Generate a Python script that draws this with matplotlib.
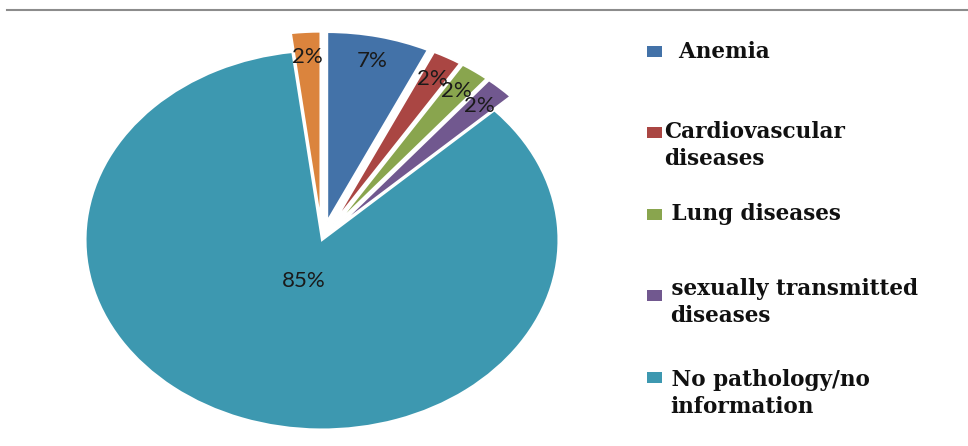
import numpy as np
import matplotlib.pyplot as plt
from matplotlib.patches import Rectangle
from matplotlib.lines import Line2D

# share of each condition, clockwise from 12 o'clock
labels = ["  Anemia", "Cardiovascular\ndiseases", " Lung diseases",
          " sexually transmitted\ndiseases", " No pathology/no\ninformation"]
values = [7, 2, 2, 2, 85, 2]
colors = ["#4372A8", "#AA4643", "#89A54E", "#71588F", "#3D98B0", "#DB843D"]
explode = [0.1, 0.1, 0.1, 0.1, 0.0, 0.1]

W, H = 968, 446
fig = plt.figure(figsize=(W / 100, H / 100), dpi=100)

# pie centre and radii in pixels; the pie is drawn as an ellipse
cx, cy, rx, ry = 322, 240, 236.5, 189.5
m = 1.3
ax = fig.add_axes([(cx - rx * m) / W, (H - cy - ry * m) / H,
                   2 * rx * m / W, 2 * ry * m / H])

wedges, texts, autotexts = ax.pie(
    values, colors=colors, explode=explode, startangle=90, counterclock=False,
    autopct=lambda p: f"{p:.0f}%", pctdistance=0.87,
    wedgeprops=dict(edgecolor="white", linewidth=1.5),
    textprops=dict(fontsize=16, family="Lato", color="#1a1a1a"))
ax.set_aspect("auto")
ax.set_xlim(-m, m)
ax.set_ylim(-m, m)

# big slice: label sits close to the centre
w = wedges[4]
mid = np.deg2rad((w.theta1 + w.theta2) / 2)
autotexts[4].set_position((w.center[0] + 0.23 * w.r * np.cos(mid),
                           w.center[1] + 0.23 * w.r * np.sin(mid)))

# legend, drawn by hand (pixel layout)
marker_y = [51, 132.5, 214, 295.5, 377.5]
text_y = [58, 138, 220, 295, 386]
for i, lab in enumerate(labels):
    fig.add_artist(Rectangle((647 / W, 1 - (marker_y[i] + 5.5) / H), 15 / W, 11 / H,
                             transform=fig.transFigure, color=colors[i], lw=0))
    for k, line in enumerate(lab.split("\n")):
        # wrapped lines line up with the first word
        x0 = 670 if (k > 0 and lab.startswith(" ")) else 664
        fig.text(x0 / W, 1 - (text_y[i] + 27 * k) / H, line, ha="left", va="baseline",
                 family="DejaVu Serif", fontweight="bold", fontsize=15.5, color="#111111")

fig.add_artist(Line2D([7 / W, 1], [1 - 9.5 / H] * 2, transform=fig.transFigure,
                      color="#8c8c8c", lw=1.5))

fig.savefig("out.png", dpi=100)
